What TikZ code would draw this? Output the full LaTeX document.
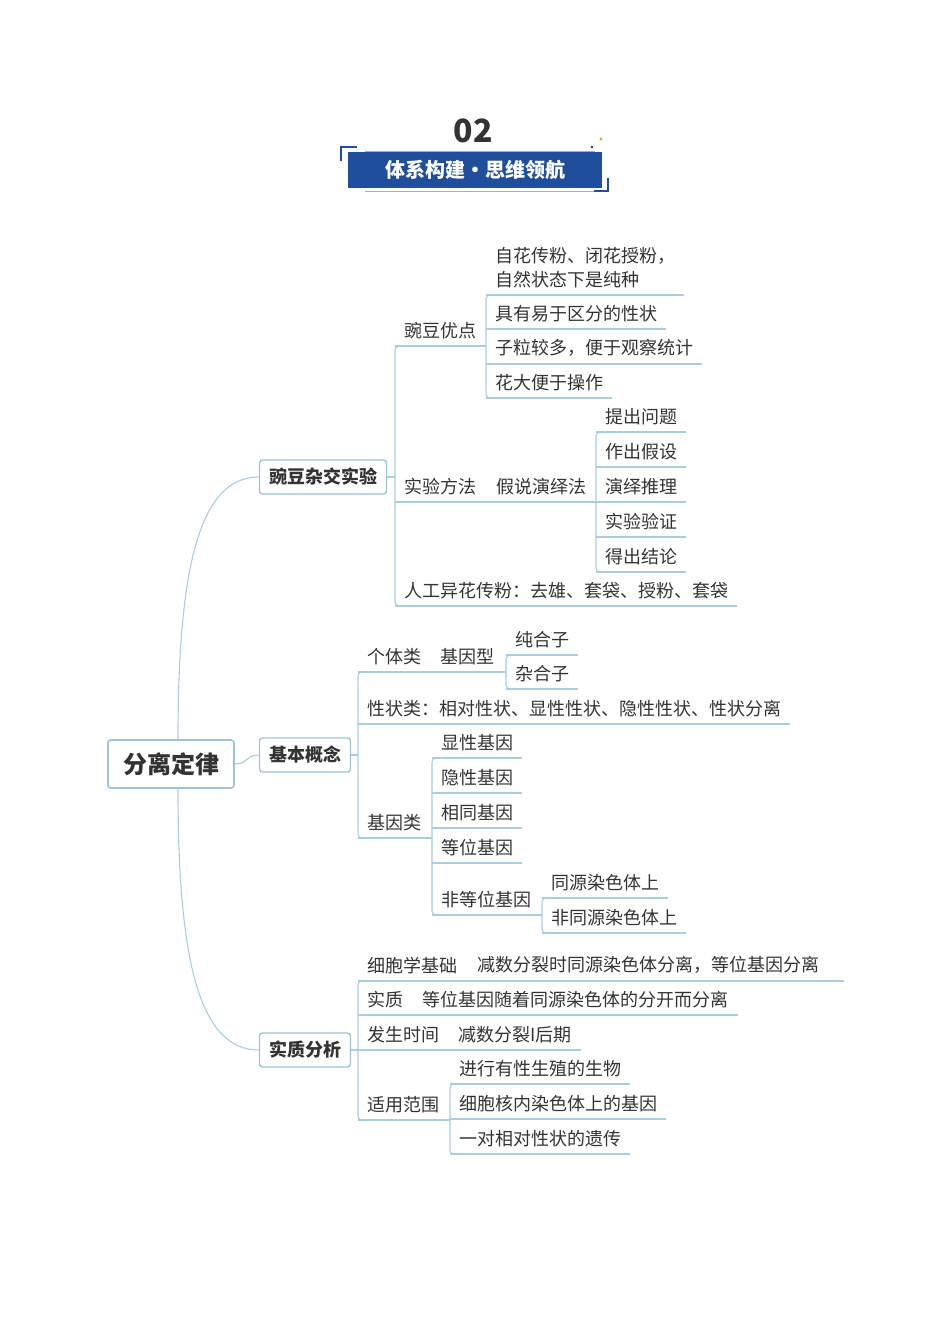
\documentclass[tikz,border=0pt]{standalone}
\usepackage{fontspec}
\newfontfamily\cjk{Noto Sans CJK SC}
\usetikzlibrary{positioning}
\definecolor{txtgray}{HTML}{333333}
\definecolor{lnblue}{HTML}{A7CDE0}
\definecolor{bxblue}{HTML}{9CC3D6}
\definecolor{hdblue}{HTML}{1F4E9C}
\definecolor{hdorange}{HTML}{F0A030}
\tikzset{
  ln/.style={draw=lnblue, line width=1.1pt},
  txt/.style={anchor=south west, inner xsep=9pt, inner ysep=7pt, text=txtgray,
    font=\cjk\fontsize{18}{24}\selectfont, align=left},
  box/.style={draw=bxblue, line width=1.4pt, rounded corners=3pt, fill=white,
    text=txtgray, font=\cjk\bfseries\fontsize{18}{22}\selectfont, minimum height=34pt},
  root/.style={box, line width=1.6pt, font=\cjk\bfseries\fontsize{24}{28}\selectfont,
    minimum width=126pt, minimum height=48pt}
}
% underline of a text node
\newcommand{\ul}[1]{\draw[ln] (#1.south west) -- (#1.south east);}
% bracket joining the underlines of the first and last child
\newcommand{\brk}[2]{\draw[ln, rounded corners=4pt] ([xshift=20pt]#1.south west) -- (#1.south west) -- (#2.south west) -- ([xshift=20pt]#2.south west);}
\begin{document}
\begin{tikzpicture}[x=1pt, y=-1pt]
    \useasboundingbox (0,0) rectangle (950,1344);

    % header
    \node[text=txtgray, font=\cjk\bfseries\fontsize{32}{34}\selectfont] (num) at (473,131) {02};
    \node[fill=hdblue, minimum width=254pt, minimum height=36pt, text=white,
      font=\cjk\bfseries\fontsize{20}{22}\selectfont] (hd) at (475,170) {体系构建•思维领航};
    \draw[hdblue!45, line width=0.8pt] (365,151) -- (595,151);
    \draw[hdblue!45, line width=0.8pt] (365,191) -- (600,191);
    \draw[hdblue, line width=1.5pt] (341,161) -- (341,147) -- (357,147);
    \draw[hdblue, line width=1.5pt] (608,178) -- (608,191) -- (594,191);
    \fill[txtgray] (592,147) circle (1.3pt);
    \fill[hdorange] (601,139) circle (1.6pt);

    % root and main branches
    \node[root] (root) at (171,764) {分离定律};
    \node[box, minimum width=127pt] (pea) at (323,477) {豌豆杂交实验};
    \node[box, minimum width=91pt] (basic) at (305,755) {基本概念};
    \node[box, minimum width=91pt] (essence) at (305,1050) {实质分析};
    \draw[ln] ([xshift=7pt]root.north) .. controls +(0,-170) and +(-60,0) .. (pea.west);
    \draw[ln] (root.east) .. controls +(14,0) and +(-14,0) .. (basic.west);
    \draw[ln] ([xshift=7pt]root.south) .. controls +(0,170) and +(-60,0) .. (essence.west);

    % pea experiment
    \node[txt] (adv) at (395,346) {豌豆优点};
    \node[txt] (meth) at (395,502) {实验方法};
    \node[txt, anchor=south west] (hypo) at ([xshift=2pt]meth.south east) {假说演绎法};
    \node[txt] (pollin) at (395,606) {人工异花传粉：去雄、套袋、授粉、套袋};
    \brk{adv}{pollin}
    \ul{pollin}
    \draw[ln] (pea.east) -- (pea.east -| adv.south west);

    \node[txt] (adv1) at (486,295) {自花传粉、闭花授粉，\\自然状态下是纯种};
    \node[txt] (adv2) at (486,329) {具有易于区分的性状};
    \node[txt] (adv3) at (486,364) {子粒较多，便于观察统计};
    \node[txt] (adv4) at (486,398) {花大便于操作};
    \brk{adv1}{adv4}
    \foreach \n in {adv1,adv2,adv3,adv4} {\ul{\n}}
    \draw[ln] (adv.south west) -- (adv.south west -| adv1.south west);

    \node[txt] (step1) at (596,432) {提出问题};
    \node[txt] (step2) at (596,467) {作出假设};
    \node[txt] (step3) at (596,502) {演绎推理};
    \node[txt] (step4) at (596,537) {实验验证};
    \node[txt] (step5) at (596,572) {得出结论};
    \brk{step1}{step5}
    \foreach \n in {step1,step2,step3,step4,step5} {\ul{\n}}
    \draw[ln] (meth.south west) -- (meth.south west -| step1.south west);

    % basic concepts
    \node[txt] (indiv) at (358,672) {个体类};
    \node[txt] (geno) at ([xshift=1pt]indiv.south east) {基因型};
    \node[txt] (trait) at (358,724) {性状类：相对性状、显性性状、隐性性状、性状分离};
    \node[txt] (gene) at (358,838) {基因类};
    \brk{indiv}{gene}
    \ul{trait}
    \draw[ln] (basic.east) -- (basic.east -| indiv.south west);

    \node[txt] (homo) at (506,655) {纯合子};
    \node[txt] (hetero) at (506,689) {杂合子};
    \brk{homo}{hetero}
    \ul{homo} \ul{hetero}
    \draw[ln] (indiv.south west) -- (indiv.south west -| homo.south west);

    \node[txt] (gdom) at (432,758) {显性基因};
    \node[txt] (grec) at (432,793) {隐性基因};
    \node[txt] (gsame) at (432,828) {相同基因};
    \node[txt] (gall) at (432,863) {等位基因};
    \node[txt] (gnon) at (432,915) {非等位基因};
    \brk{gdom}{gnon}
    \foreach \n in {gdom,grec,gsame,gall} {\ul{\n}}
    \draw[ln] (gene.south west) -- (gene.south west -| gdom.south west);

    \node[txt] (chrom1) at (542,898) {同源染色体上};
    \node[txt] (chrom2) at (542,933) {非同源染色体上};
    \brk{chrom1}{chrom2}
    \ul{chrom1} \ul{chrom2}
    \draw[ln] (gnon.south west) -- (gnon.south west -| chrom1.south west);

    % essence
    \node[txt] (cyto) at (358,981) {细胞学基础};
    \node[txt] (cytoa) at ([xshift=2pt]cyto.south east) {减数分裂时同源染色体分离，等位基因分离};
    \node[txt] (core) at (358,1015) {实质};
    \node[txt] (corea) at ([xshift=1pt]core.south east) {等位基因随着同源染色体的分开而分离};
    \node[txt] (time) at (358,1050) {发生时间};
    \node[txt] (timea) at ([xshift=1pt]time.south east) {减数分裂I后期};
    \node[txt] (scope) at (358,1120) {适用范围};
    \brk{cyto}{scope}
    \draw[ln] (cyto.south west) -- ([xshift=15pt]cytoa.south east);
    \draw[ln] (core.south west) -- (corea.south east);
    \draw[ln] (time.south west) -- (timea.south east);
    \draw[ln] (essence.east) -- (essence.east -| cyto.south west);

    \node[txt] (use1) at (450,1084) {进行有性生殖的生物};
    \node[txt] (use2) at (450,1119) {细胞核内染色体上的基因};
    \node[txt] (use3) at (450,1154) {一对相对性状的遗传};
    \brk{use1}{use3}
    \foreach \n in {use1,use2,use3} {\ul{\n}}
    \draw[ln] (scope.south west) -- (scope.south west -| use1.south west);
\end{tikzpicture}
\end{document}
